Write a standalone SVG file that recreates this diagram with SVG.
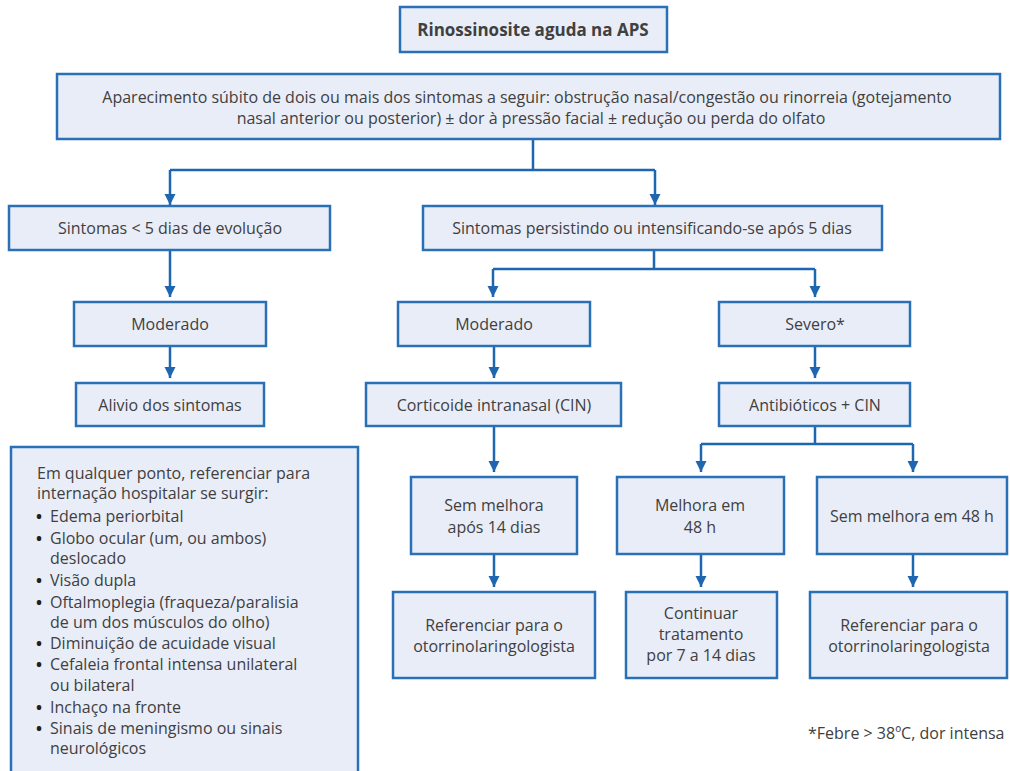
<svg xmlns="http://www.w3.org/2000/svg" width="1010" height="771" viewBox="0 0 1010 771">
<style>
.box{fill:#e9edf8;stroke:#2a70b7;stroke-width:2.5}
.t{font-family:"Open Sans","Liberation Sans",sans-serif;font-size:16px;fill:#404040;text-anchor:middle}
.l{font-family:"Open Sans","Liberation Sans",sans-serif;font-size:16px;fill:#404040}
.b{font-family:"Open Sans","Liberation Sans",sans-serif;font-size:16px;fill:#202020;font-weight:bold}
.c{fill:none;stroke:#1f66b1;stroke-width:2.5}
</style>
<defs>
<marker id="ah" viewBox="0 0 10 10" refX="10" refY="5" markerWidth="11" markerHeight="12" markerUnits="userSpaceOnUse" orient="auto">
<path d="M0,0 L10,5 L0,10 z" fill="#1f66b1"/>
</marker>
</defs>
<rect width="1010" height="771" fill="#ffffff"/>
<g id="connectors">
<path class="c" d="M533,140 V170 M170,170 H655"/>
<path class="c" d="M170,170 V205" marker-end="url(#ah)"/>
<path class="c" d="M655,170 V205" marker-end="url(#ah)"/>
<path class="c" d="M170,250 V297" marker-end="url(#ah)"/>
<path class="c" d="M170,346 V378" marker-end="url(#ah)"/>
<path class="c" d="M654,250 V269 M493,269 H815"/>
<path class="c" d="M493,269 V297" marker-end="url(#ah)"/>
<path class="c" d="M815,269 V297" marker-end="url(#ah)"/>
<path class="c" d="M494,346 V378" marker-end="url(#ah)"/>
<path class="c" d="M815,346 V378" marker-end="url(#ah)"/>
<path class="c" d="M494,426 V472" marker-end="url(#ah)"/>
<path class="c" d="M815,426 V444 M701,444 H913"/>
<path class="c" d="M701,444 V472" marker-end="url(#ah)"/>
<path class="c" d="M913,444 V472" marker-end="url(#ah)"/>
<path class="c" d="M494,554 V587" marker-end="url(#ah)"/>
<path class="c" d="M701,554 V587" marker-end="url(#ah)"/>
<path class="c" d="M913,554 V587" marker-end="url(#ah)"/>
</g>
<g id="title">
<rect class="box" x="400" y="7" width="267" height="45"/>
<text class="t" x="533" y="36" style="font-weight:bold;font-size:17px">Rinossinosite aguda na APS</text>
</g>
<g id="inicio">
<rect class="box" x="57" y="74" width="943" height="65"/>
<text class="t" x="527" y="103">Aparecimento súbito de dois ou mais dos sintomas a seguir: obstrução nasal/congestão ou rinorreia (gotejamento</text>
<text class="t" x="531" y="124">nasal anterior ou posterior) ± dor à pressão facial ± redução ou perda do olfato</text>
</g>
<g id="menos5">
<rect class="box" x="9" y="206" width="321" height="44"/>
<text class="t" x="170" y="234">Sintomas &lt; 5 dias de evolução</text>
</g>
<g id="persistindo">
<rect class="box" x="423" y="206" width="459" height="44"/>
<text class="t" x="652" y="234">Sintomas persistindo ou intensificando-se após 5 dias</text>
</g>
<g id="moderado1">
<rect class="box" x="74" y="302" width="192" height="44"/>
<text class="t" x="170" y="330">Moderado</text>
</g>
<g id="moderado2">
<rect class="box" x="398" y="302" width="192" height="44"/>
<text class="t" x="494" y="330">Moderado</text>
</g>
<g id="severo">
<rect class="box" x="719" y="302" width="191" height="44"/>
<text class="t" x="815" y="330">Severo*</text>
</g>
<g id="alivio">
<rect class="box" x="76" y="383" width="188" height="43"/>
<text class="t" x="170" y="411">Alivio dos sintomas</text>
</g>
<g id="cin">
<rect class="box" x="366" y="383" width="255" height="43"/>
<text class="t" x="494" y="411">Corticoide intranasal (CIN)</text>
</g>
<g id="antibioticos">
<rect class="box" x="719" y="383" width="191" height="43"/>
<text class="t" x="815" y="411">Antibióticos + CIN</text>
</g>
<g id="semmelhora14">
<rect class="box" x="411" y="477" width="166" height="77"/>
<text class="t" x="494" y="511">Sem melhora</text>
<text class="t" x="494" y="533">após 14 dias</text>
</g>
<g id="melhora48">
<rect class="box" x="617" y="477" width="167" height="77"/>
<text class="t" x="700" y="511">Melhora em</text>
<text class="t" x="700" y="533">48 h</text>
</g>
<g id="semmelhora48">
<rect class="box" x="817" y="477" width="190" height="77"/>
<text class="t" x="912" y="522">Sem melhora em 48 h</text>
</g>
<g id="referenciar1">
<rect class="box" x="393" y="592" width="202" height="86"/>
<text class="t" x="494" y="631">Referenciar para o</text>
<text class="t" x="494" y="652">otorrinolaringologista</text>
</g>
<g id="continuar">
<rect class="box" x="626" y="592" width="151" height="86"/>
<text class="t" x="701" y="619">Continuar</text>
<text class="t" x="701" y="640">tratamento</text>
<text class="t" x="701" y="661">por 7 a 14 dias</text>
</g>
<g id="referenciar2">
<rect class="box" x="810" y="592" width="197" height="86"/>
<text class="t" x="909" y="631">Referenciar para o</text>
<text class="t" x="909" y="652">otorrinolaringologista</text>
</g>
<g id="internacao">
<rect class="box" x="11" y="447" width="347" height="340"/>
<text class="l" x="37" y="479">Em qualquer ponto, referenciar para</text>
<text class="l" x="37" y="499">internação hospitalar se surgir:</text>
<text class="b" x="36" y="522">•</text><text class="l" x="50" y="522">Edema periorbital</text>
<text class="b" x="36" y="544">•</text><text class="l" x="50" y="544">Globo ocular (um, ou ambos)</text>
<text class="l" x="50" y="564">deslocado</text>
<text class="b" x="36" y="586">•</text><text class="l" x="50" y="586">Visão dupla</text>
<text class="b" x="36" y="608">•</text><text class="l" x="50" y="608">Oftalmoplegia (fraqueza/paralisia</text>
<text class="l" x="50" y="628">de um dos músculos do olho)</text>
<text class="b" x="36" y="649">•</text><text class="l" x="50" y="649">Diminuição de acuidade visual</text>
<text class="b" x="36" y="670">•</text><text class="l" x="50" y="670">Cefaleia frontal intensa unilateral</text>
<text class="l" x="50" y="691">ou bilateral</text>
<text class="b" x="36" y="713">•</text><text class="l" x="50" y="713">Inchaço na fronte</text>
<text class="b" x="36" y="734">•</text><text class="l" x="50" y="734">Sinais de meningismo ou sinais</text>
<text class="l" x="50" y="754">neurológicos</text>
</g>
<text class="l" x="808" y="739">*Febre &gt; 38ºC, dor intensa</text>
</svg>
